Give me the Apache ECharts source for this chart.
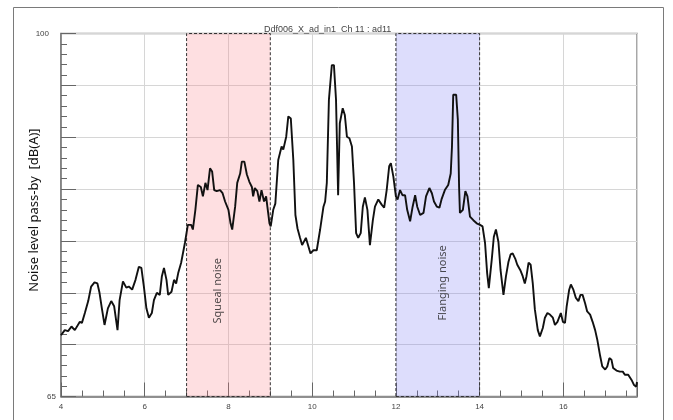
<!DOCTYPE html>
<html>
<head>
<meta charset="utf-8">
<script src="https://cdn.jsdelivr.net/npm/echarts@6/dist/echarts.min.js"></script>
<style>html,body{margin:0;padding:0;background:#fff}#c{width:673px;height:420px}</style>
</head>
<body>
<div id="c"></div>
<script>
// Position along the pass-by (x axis) and measured level in dB(A)
const positions = [4.00,4.09,4.17,4.25,4.33,4.45,4.50,4.57,4.65,4.72,4.80,4.87,4.92,4.98,5.04,5.12,5.20,5.27,5.35,5.40,5.48,5.56,5.62,5.70,5.78,5.86,5.92,5.98,6.04,6.10,6.17,6.22,6.29,6.36,6.41,6.46,6.52,6.56,6.64,6.70,6.75,6.80,6.87,6.96,7.03,7.11,7.15,7.21,7.27,7.34,7.39,7.45,7.50,7.56,7.61,7.66,7.72,7.80,7.86,7.92,8.00,8.05,8.09,8.16,8.21,8.28,8.32,8.38,8.44,8.50,8.56,8.59,8.63,8.69,8.74,8.79,8.85,8.90,8.93,8.98,9.01,9.07,9.12,9.19,9.27,9.31,9.38,9.43,9.49,9.55,9.60,9.65,9.71,9.76,9.79,9.85,9.87,9.93,9.96,10.03,10.11,10.19,10.27,10.31,10.35,10.40,10.47,10.52,10.57,10.62,10.66,10.73,10.78,10.83,10.89,10.95,11.00,11.05,11.10,11.16,11.21,11.26,11.32,11.38,11.45,11.50,11.58,11.66,11.72,11.78,11.84,11.88,11.94,12.00,12.04,12.10,12.16,12.22,12.27,12.34,12.40,12.46,12.51,12.58,12.66,12.72,12.80,12.86,12.91,12.98,13.04,13.09,13.17,13.25,13.31,13.34,13.37,13.44,13.48,13.51,13.53,13.60,13.66,13.71,13.77,13.85,13.93,14.01,14.07,14.13,14.18,14.22,14.29,14.34,14.39,14.45,14.50,14.57,14.63,14.69,14.74,14.79,14.85,14.90,14.97,15.03,15.08,15.12,15.17,15.22,15.27,15.32,15.39,15.44,15.51,15.56,15.62,15.68,15.75,15.80,15.86,15.90,15.94,15.99,16.04,16.08,16.14,16.18,16.24,16.30,16.36,16.41,16.46,16.52,16.57,16.64,16.70,16.76,16.81,16.88,16.93,17.00,17.05,17.10,17.15,17.19,17.27,17.35,17.42,17.47,17.55,17.63,17.69,17.74,17.76];
const levels = [70.9,71.4,71.3,71.75,71.4,72.2,72.1,73.05,74.2,75.6,76.0,75.9,75.0,73.4,71.9,73.5,74.2,73.7,71.4,74.3,76.1,75.5,75.6,75.3,76.25,77.5,77.4,75.6,73.5,72.6,73.05,74.3,75.0,74.8,76.6,77.4,76.25,74.8,75.1,76.25,75.9,76.9,77.9,79.8,81.55,81.55,81.1,83.0,85.4,85.2,84.3,85.6,84.9,87.0,86.7,84.9,84.8,84.9,84.6,83.8,83.0,81.7,81.1,83.3,85.6,86.5,87.65,87.65,86.4,85.7,85.2,84.3,85.1,84.8,83.8,84.9,83.8,84.3,83.3,81.7,81.4,83.0,83.6,87.8,89.1,88.8,90.05,92.0,91.8,87.8,82.5,81.2,80.3,79.6,79.5,80.3,80.2,79.2,78.8,79.1,79.1,81.1,83.3,83.8,85.6,93.6,96.95,96.95,93.6,84.4,91.35,92.8,92.15,90.05,89.9,89.1,85.6,80.75,80.3,80.75,83.3,84.2,83.0,79.6,82.0,83.3,84.0,83.5,83.2,84.9,87.2,87.5,86.2,84.3,84.0,84.9,84.4,84.4,83.0,81.9,83.3,84.4,83.3,82.5,82.7,84.3,85.1,84.6,83.8,83.3,83.2,84.0,84.9,85.4,86.5,89.1,94.1,94.1,91.7,85.2,82.7,83.0,84.8,84.3,82.35,82.0,81.7,81.55,81.4,79.8,76.9,75.45,78.2,80.4,81.1,79.9,77.2,74.8,76.6,78.0,78.7,78.8,78.3,77.7,77.2,76.6,75.9,76.6,77.9,77.7,75.9,73.4,71.4,70.8,71.6,72.6,73.05,72.9,72.6,71.9,72.2,72.1,73.05,72.2,72.1,73.7,75.3,75.8,75.3,74.5,74.2,74.8,74.8,74.0,73.2,72.9,72.2,71.4,70.5,68.9,67.9,67.6,67.9,68.7,68.55,67.75,67.5,67.4,67.4,67.1,67.1,66.6,66.1,65.95,66.4];

// Highlighted regions
const regionNames = ['Squeal noise', 'Flanging noise'];
const regionStart = [7, 12];
const regionEnd = [9, 14];
const regionFill = ['rgba(250,128,135,0.25)', 'rgba(120,120,245,0.25)'];
// Where each region's label sits (data coordinates)
const noteX = [7.75, 13.12];
const noteY = [75.2, 75.95];

// Axis ranges and tick labels
const xMin = 4, xMax = 17.76;
const yMin = 65, yMax = 100;
const xTickLabels = [4, 6, 8, 10, 12, 14, 16];
const yTickLabels = [65, 100];
const titleText = 'Ddf006_X_ad_in1  Ch 11 : ad11';
const yName = 'Noise level pass-by  [dB(A)]';

const chart = echarts.init(document.getElementById('c'), null, {renderer: 'canvas'});
const lineData = positions.map((p, i) => [p, levels[i]]);
const tickColor = '#666';

chart.setOption({
  animation: false,
  backgroundColor: '#fff',
  graphic: [{
    type: 'rect', z: -10, silent: true,
    shape: {x: 13.5, y: 7.5, width: 650, height: 440},
    style: {fill: 'none', stroke: '#7a7a7a', lineWidth: 1}
  }],
  title: {
    text: titleText, left: 259, top: 20,
    textStyle: {fontFamily: 'Liberation Sans', fontSize: 9, fontWeight: 'normal', color: '#444'}
  },
  grid: {left: 61, right: 36, top: 33.5, bottom: 23.5, show: true, borderColor: '#8a8a8a', borderWidth: 1.5, backgroundColor: 'transparent'},
  xAxis: [{
    type: 'value', min: xMin, max: xMax, interval: 0.5,
    axisLine: {show: true, lineStyle: {color: '#777', width: 1.5}},
    axisTick: {show: true, inside: true, length: 6, lineStyle: {color: tickColor}},
    axisLabel: {show: false}, splitLine: {show: false}
  }, {
    type: 'value', min: xMin, max: xMax, interval: 2, position: 'bottom',
    axisLine: {show: false},
    axisTick: {show: true, inside: true, length: 14, lineStyle: {color: tickColor}},
    axisLabel: {
      margin: 6, fontFamily: 'Liberation Sans', fontSize: 8, color: '#444',
      formatter: v => xTickLabels.indexOf(v) >= 0 ? String(v) : ''
    },
    splitLine: {show: true, lineStyle: {color: '#d6d6d6', width: 1}}
  }],
  yAxis: [{
    type: 'value', min: yMin, max: yMax, interval: 1, position: 'left',
    axisLine: {show: true, lineStyle: {color: '#777', width: 1.5}},
    axisTick: {show: true, inside: true, length: 6, lineStyle: {color: tickColor}},
    axisLabel: {show: false}, splitLine: {show: false},
    name: yName, nameLocation: 'middle', nameRotate: 90, nameGap: 20, nameMoveOverlap: false,
    nameTextStyle: {fontFamily: 'Noto Sans', fontSize: 13, color: '#111', padding: [0, 0, 0, 10]}
  }, {
    type: 'value', min: yMin, max: yMax, interval: 5, position: 'left',
    axisLine: {show: false},
    axisTick: {show: true, inside: true, length: 15, lineStyle: {color: tickColor}},
    axisLabel: {
      margin: 5, fontFamily: 'Liberation Sans', fontSize: 8, color: '#444',
      formatter: v => yTickLabels.indexOf(v) >= 0 ? (v === yMax ? '{t|' + v + '}' : String(v)) : '',
      rich: {t: {fontFamily: 'Liberation Sans', fontSize: 8, color: '#444', padding: [0, 7, 0, 0]}}
    },
    splitLine: {show: true, lineStyle: {color: '#d6d6d6', width: 1}}
  }],
  series: [{
    type: 'line', data: [], z: 1, silent: true,
    markArea: {
      silent: true,
      data: regionStart.map((s, i) => [
        {xAxis: s, itemStyle: {color: regionFill[i], borderColor: '#333', borderWidth: 1, borderType: [3, 2]}},
        {xAxis: regionEnd[i]}
      ])
    }
  }, {
    type: 'scatter', z: 2, silent: true, symbolSize: 0,
    data: noteX.map((x, i) => ({value: [x, noteY[i]], name: regionNames[i]})),
    label: {show: true, position: 'inside', rotate: 90, formatter: p => p.name,
      fontFamily: 'Noto Sans', fontSize: 11, color: '#222'}
  }, {
    type: 'line', z: 5, data: lineData, showSymbol: false, silent: true,
    lineStyle: {color: '#111', width: 1.9}
  }]
});
</script>
</body>
</html>
